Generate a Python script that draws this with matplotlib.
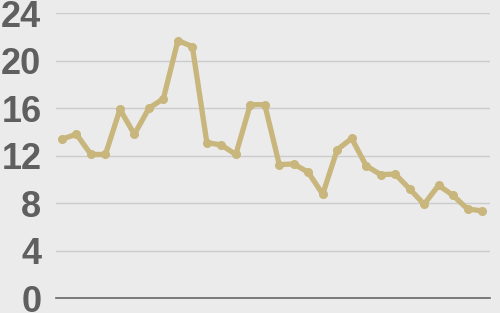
import matplotlib.pyplot as plt
import numpy as np

# values
vals = [13.4, 13.8, 12.1, 12.1, 15.9, 13.8, 16.0, 16.8, 21.7, 21.2,
        13.1, 12.9, 12.1, 16.3, 16.3, 11.25, 11.3, 10.6, 8.75, 12.5,
        13.45, 11.15, 10.4, 10.45, 9.2, 7.9, 9.5, 8.65, 7.5, 7.35]
yticks = [0, 4, 8, 12, 16, 20, 24]

bg = '#ebebeb'
fig = plt.figure(figsize=(5, 3.13), dpi=100, facecolor=bg)
ax = fig.add_axes([0.112, 0.0479, 0.868, 0.9096], facecolor=bg)

x = np.arange(len(vals))
ax.plot(x, vals, color='#c8b67c', lw=3.8, marker='o', ms=5.5,
        solid_joinstyle='round', clip_on=False, zorder=3)

ax.set_ylim(0, 24)
ax.set_xlim(-0.414, 29.55)
ax.set_yticks(yticks)
ax.set_yticklabels([str(t) for t in yticks], fontsize=26, fontweight='bold',
                   color='#5f5f5f', family='Liberation Sans')
ax.tick_params(axis='y', length=0, pad=10.5)
ax.set_xticks([])
ax.grid(axis='y', color='#cccccc', lw=1)
ax.set_axisbelow(True)
for s in ['top', 'right', 'left']:
    ax.spines[s].set_visible(False)
ax.spines['bottom'].set_color('#666666')
ax.spines['bottom'].set_linewidth(1.2)

plt.savefig('out.png', dpi=100, facecolor=bg)
